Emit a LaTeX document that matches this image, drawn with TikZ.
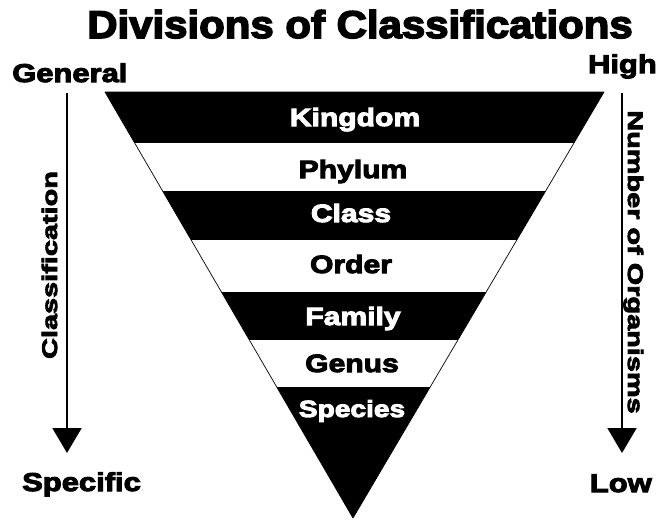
\documentclass[tikz,border=0pt]{standalone}
\usepackage{fontspec}
\newfontfamily\titlefont{Liberation Sans Bold}[FakeStretch=1.085,FakeBold=4]
\newfontfamily\rankfont{Liberation Sans Bold}[FakeStretch=1.2,FakeBold=4]
\newfontfamily\sidefont{Liberation Sans Bold}[FakeStretch=1.37,FakeBold=4]
\usetikzlibrary{arrows.meta,positioning}
\tikzset{%
	heading/.style   = {font=\titlefont\fontsize{33}{36}\selectfont, inner sep=0pt, anchor=base}, % Title
	rank/.style      = {font=\rankfont\fontsize{21.4}{24}\selectfont, inner sep=0pt, anchor=base}, % Band label
	darkrank/.style  = {rank, text=white},
	lightrank/.style = {rank, text=black},
	endlabel/.style  = {font=\rankfont\fontsize{22}{24}\selectfont, inner sep=0pt}, % Ends of the scales
	sidetext/.style  = {font=\sidefont\fontsize{18}{20}\selectfont, inner sep=0pt, anchor=base}, % Scale names
	scalearrow/.style = {line width=1.7pt, -{Triangle[width=0.87cm,length=0.75cm]}},
}

\begin{document}
\begin{tikzpicture}[x=0.03cm, y=-0.03cm]
		\useasboundingbox (0,0) rectangle (661,519);
		\node[heading] (title) at (360,38) {Divisions of Classifications};
		% pyramid
		\coordinate (tl) at (105,92);
		\coordinate (tr) at (604,92);
		\coordinate (apex) at (353,518);
		\begin{scope}
			\clip (tl) -- (tr) -- (apex) -- cycle;
			\foreach \top/\bot in {92/143, 191/240, 292/340, 387/519}
				\fill (0,\top) rectangle (661,\bot);
		\end{scope}
		\draw[line width=0.6pt, line join=round] (tl) -- (tr) -- (apex) -- cycle;
		\node[darkrank] (kingdom) at (355,126) {Kingdom};
		\node[lightrank] (phylum) at (353,178) {Phylum};
		\node[darkrank] (class) at (351,222) {Class};
		\node[lightrank] (order) at (351,273) {Order};
		\node[darkrank] (family) at (353,325) {Family};
		\node[lightrank] (genus) at (352,372) {Genus};
		\node[darkrank, font=\rankfont\fontsize{20}{22}\selectfont] (species) at (352,417) {Species};
		% left scale
		\node[endlabel, anchor=base west] (general) at (12,82) {General};
		\node[endlabel, anchor=base west] (specific) at (22,491) {Specific};
		\coordinate (lstart) at (67,93);
		\coordinate (lend) at (67,453);
		\draw[scalearrow] (lstart) -- (lend);
		\node[sidetext, rotate=90] (classification) at (57,265) {Classification};
		% right scale
		\node[endlabel, anchor=base east] (high) at (657,73) {High};
		\node[endlabel, anchor=base east] (low) at (652,492) {Low};
		\coordinate (rstart) at (622,93);
		\coordinate (rend) at (622,453);
		\draw[scalearrow] (rstart) -- (rend);
		\node[sidetext, rotate=-90] (organisms) at (628,262) {Number of Organisms};
\end{tikzpicture}
\end{document}
